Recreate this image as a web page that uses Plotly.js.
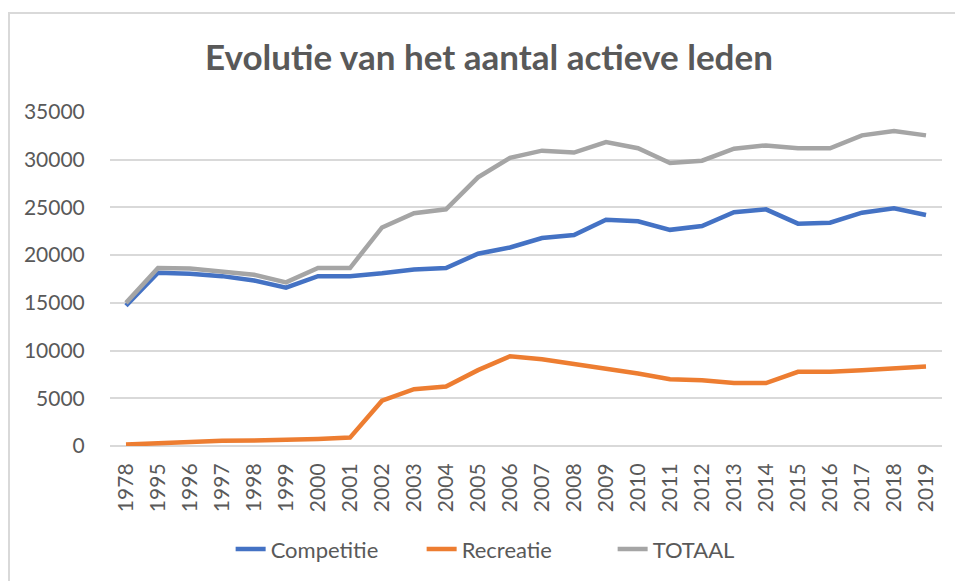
<!DOCTYPE html>
<html>
<head>
<meta charset="utf-8">
<script src="https://cdn.plot.ly/plotly-3.0.1.min.js"></script>
<style>
  html, body { margin: 0; padding: 0; background: #ffffff; }
  #wrap { position: relative; width: 955px; height: 581px; }
  #chart { width: 955px; height: 581px; }
  #frame { position: absolute; left: 8px; top: 12px; width: 947px; height: 569px;
           border-left: 2px solid #d9d9d9; border-top: 2px solid #d9d9d9; box-sizing: border-box; pointer-events: none; }
</style>
</head>
<body>
<div id="wrap">
  <div id="chart"></div>
  <div id="frame"></div>
</div>
<script>
const years = ["1978","1995","1996","1997","1998","1999","2000","2001","2002","2003","2004","2005","2006","2007","2008","2009","2010","2011","2012","2013","2014","2015","2016","2017","2018","2019"];
const competitie = [14700,18150,18050,17800,17350,16600,17800,17800,18100,18500,18650,20150,20800,21800,22100,23700,23550,22650,23050,24500,24800,23300,23400,24450,24900,24200];
const recreatie = [150,300,420,560,570,600,730,880,4750,5950,6230,7950,9400,9100,8600,8200,7600,7000,6880,6600,6600,7780,7780,7950,8100,8320];
const totaal = [15000,18650,18600,18300,17950,17150,18650,18650,22900,24400,24800,28150,30200,30950,30750,31850,31200,29650,29900,31150,31500,31200,31200,32550,33000,32550];

const seriesNames = ["Competitie","Recreatie","TOTAAL"];
const seriesColors = ["#4472C4","#ED7D31","#A5A5A5"];
const seriesValues = [competitie, recreatie, totaal];

const font = "Lato, 'Open Sans', sans-serif";
const textColor = "#595959";

const traces = seriesValues.map((vals, i) => ({
  type: "scatter",
  mode: "lines",
  name: seriesNames[i],
  x: years,
  y: vals,
  line: { color: seriesColors[i], width: 4.5 },
  hoverinfo: "x+y+name"
}));

const layout = {
  width: 955,
  height: 581,
  margin: { l: 110, r: 13, t: 112, b: 134 },
  paper_bgcolor: "#ffffff",
  plot_bgcolor: "#ffffff",
  title: {
    text: "<b>Evolutie van het aantal actieve leden</b>",
    font: { family: font, size: 35, color: textColor },
    x: 0.512, xref: "container", xanchor: "center",
    y: 0.9, yref: "container", yanchor: "middle"
  },
  xaxis: {
    type: "category",
    range: [-0.5, 25.5],
    tickangle: -90,
    tickfont: { family: font, size: 21, color: textColor },
    showgrid: false,
    showline: false,
    zeroline: false,
    ticks: "outside",
    ticklen: 8,
    tickcolor: "rgba(0,0,0,0)"
  },
  yaxis: {
    range: [0, 35000],
    dtick: 5000,
    tick0: 0,
    tickformat: "d",
    tickfont: { family: font, size: 21, color: textColor },
    showgrid: true,
    gridcolor: "#d9d9d9",
    gridwidth: 2,
    zeroline: true,
    zerolinecolor: "#d9d9d9",
    zerolinewidth: 2,
    showline: false,
    ticks: "outside",
    ticklen: 20,
    tickcolor: "rgba(0,0,0,0)"
  },
  legend: {
    orientation: "h",
    x: 0.145, xanchor: "left",
    y: -0.305, yanchor: "middle",
    font: { family: font, size: 22, color: textColor },
    entrywidth: 146,
    bgcolor: "rgba(0,0,0,0)"
  },
  showlegend: true
};

Plotly.newPlot("chart", traces, layout, { displayModeBar: false, staticPlot: true });
</script>
</body>
</html>
